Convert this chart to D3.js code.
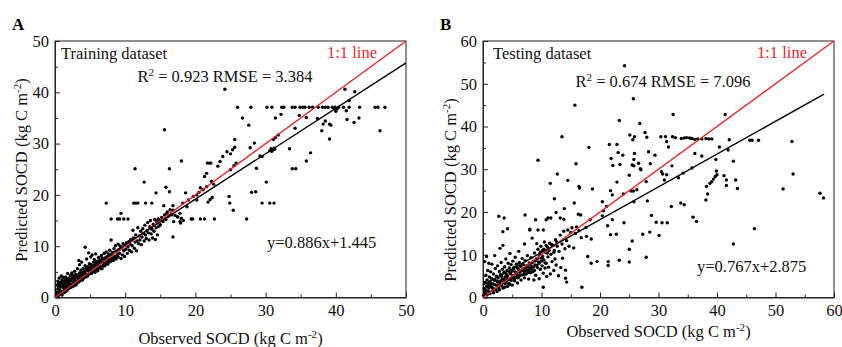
<!DOCTYPE html>
<html><head><meta charset="utf-8">
<script src="https://cdn.jsdelivr.net/npm/d3@7"></script>
<style>
body{margin:0;background:#fff}
svg{display:block}
text{font-family:"Liberation Serif","Times New Roman",serif;fill:#111}
</style></head>
<body><svg id="chart" width="842" height="347"></svg>
<script>
// ---------------- DATA ----------------
const trainingPoints = [
[0.2,0.3],[0.3,1.1],[0.3,2.4],[0.4,0.6],[0.4,3.2],[0.5,1.7],[0.5,2.8],[0.6,0.9],[0.6,3.8],[0.7,1.4],[0.7,2.1],[0.8,3.0],[0.8,0.7],[0.9,2.5],[0.9,4.2],[1.0,1.2],[1.0,3.4],[1.1,2.0],[1.1,2.9],[1.2,0.9],[1.2,3.9],[1.3,1.8],[1.3,2.6],[1.4,3.3],[1.4,1.5],[1.5,2.2],[1.5,4.0],[1.6,2.9],[1.6,1.9],[1.7,3.6],[1.8,2.4],[1.8,4.7],[1.9,3.1],[1.9,1.7],[2.0,2.7],[2.0,3.8],[2.1,2.1],[2.2,4.3],[2.2,3.2],[2.3,2.6],[2.4,4.8],[2.4,3.6],[2.5,2.4],[2.6,3.1],[2.6,4.4],[2.7,2.9],[2.8,3.7],[2.8,5.1],[2.9,3.3],[3.0,2.6],[3.0,4.5],[3.1,3.9],[3.2,3.0],[3.2,5.6],[3.3,4.2],[3.4,7.2],[3.4,3.5],[3.5,4.8],[3.5,6.4],[3.6,3.8],[3.7,5.3],[3.7,4.1],[3.8,6.9],[3.9,4.6],[3.9,3.6],[4.0,5.6],[4.1,4.3],[4.3,9.8],[4.2,5.0],[4.3,6.2],[4.4,4.6],[4.5,5.4],[4.5,7.5],[4.6,4.2],[4.7,6.0],[4.8,5.1],[4.8,8.7],[4.9,6.6],[5.0,4.8],[5.0,5.7],[5.1,7.9],[5.2,5.3],[5.2,6.4],[5.3,8.3],[5.4,5.0],[5.5,6.9],[5.5,5.8],[5.6,7.4],[5.7,4.9],[5.8,6.2],[5.8,8.5],[5.9,5.5],[6.0,7.1],[6.0,6.3],[6.1,5.2],[6.2,7.8],[6.3,6.6],[6.3,5.8],[6.4,7.3],[6.5,6.0],[6.6,8.2],[6.6,6.9],[6.7,5.6],[6.8,7.5],[6.9,6.4],[7.0,8.6],[7.0,7.0],[7.1,6.2],[7.2,7.7],[7.3,8.9],[7.3,6.8],[7.4,7.3],[7.5,6.5],[7.6,8.1],[7.7,7.4],[7.8,9.2],[7.9,7.0],[8.0,11.2],[8.0,8.3],[8.1,7.6],[8.2,8.8],[8.3,7.2],[8.4,9.5],[8.5,8.0],[8.6,10.1],[8.7,7.5],[8.8,9.0],[8.9,8.4],[9.0,10.4],[9.0,7.9],[9.1,9.3],[9.2,8.6],[9.3,10.0],[9.4,7.6],[9.5,9.6],[9.6,8.3],[9.7,10.5],[9.8,9.1],[9.9,8.0],[10.0,10.2],[10.1,9.4],[10.2,10.7],[10.3,8.6],[10.4,9.9],[10.5,10.9],[10.6,9.2],[10.7,10.4],[10.8,11.3],[10.9,8.9],[11.0,10.1],[11.1,13.1],[11.2,11.6],[11.3,9.6],[11.4,10.8],[11.5,12.2],[11.6,9.1],[11.7,11.0],[11.8,13.6],[11.9,10.5],[12.0,12.0],[12.1,11.2],[12.2,12.9],[12.3,10.3],[12.4,11.8],[12.5,13.4],[12.6,12.5],[12.7,11.0],[12.8,14.1],[12.9,12.2],[13.0,11.5],[13.1,13.0],[13.2,14.6],[13.3,12.6],[13.4,11.2],[13.5,13.8],[13.6,15.0],[13.7,12.4],[13.8,13.3],[13.9,11.6],[14.0,14.3],[14.1,12.9],[14.2,15.2],[14.3,11.3],[14.4,13.6],[14.5,14.8],[14.6,12.2],[14.7,15.3],[14.8,13.9],[14.9,15.0],[15.0,14.2],[15.2,15.6],[15.4,14.8],[15.6,16.1],[15.8,15.2],[16.0,16.7],[16.2,15.9],[16.5,16.3],[16.8,17.0],[17.1,16.0],[17.5,15.7],[17.8,14.8],[18.0,15.4],
[0.3,0.8],[0.5,0.4],[0.6,1.9],[0.9,1.1],[1.0,0.5],[1.2,2.2],[1.4,1.0],[1.7,1.3],[2.0,1.8],[2.3,2.0],[2.6,2.2],[2.9,2.4],[3.1,2.8],[3.4,3.0],[3.6,3.3],[3.9,3.4],[4.1,3.8],[4.4,4.0],[4.7,4.4],[4.9,4.6],[5.2,4.7],[5.5,5.1],[5.7,5.4],[6.0,5.5],[6.2,5.8],[6.5,5.7],[6.8,6.1],[7.1,6.7],[7.4,6.6],[7.7,6.9],[8.0,7.3],[8.3,7.7],[8.6,7.8],[0.5,2.0],[0.8,2.5],[1.1,3.0],[1.5,3.1],[1.8,3.5],[2.1,3.5],[2.5,3.9],[2.9,4.1],[3.3,4.4],[3.6,4.5],[4.0,4.9],[4.4,5.6],[4.7,5.3],[5.1,6.0],[5.4,6.2],[5.8,6.8],[6.1,7.0],[6.4,6.9],[6.7,7.7],[7.0,7.6],[7.3,7.9],[7.6,8.5],
[7.3,18.4],[11.2,18.4],[11.5,18.4],[11.8,18.4],[12.9,18.4],[13.8,18.4],[8.0,15.3],[8.9,15.3],[9.2,15.3],[9.8,15.3],[10.4,15.3],[9.4,16.4],[14.4,20.4],[15.8,21.5],[16.3,20.6],[16.8,17.9],[15.5,17.9],[16.8,11.8],[11.4,25.1],[12.7,22.5],[15.6,32.7],[18.0,26.6],[16.3,25.1],[18.6,20.4],[18.2,18.4],[17.8,16.4],[17.9,14.5],[18.3,15.0],[19.4,15.3],[19.6,15.3],[20.7,15.3],[21.3,15.3],[22.7,15.3],[15.9,16.4],[16.4,17.1],[17.4,15.8],[16.9,14.8],[16.6,16.1],[18.8,17.7],[19.0,19.0],[19.7,19.7],[20.2,19.0],[20.5,20.5],[20.2,20.0],[20.7,21.4],[21.1,21.0],[21.6,21.6],[21.6,24.2],[21.3,23.6],[22.3,22.6],[22.6,22.1],[21.7,26.2],[22.0,26.2],[22.2,26.2],[23.2,25.6],[23.9,27.5],[23.5,26.5],[22.1,19.1],[21.8,18.6],[22.4,19.5],[24.8,19.7],[24.9,18.4],[25.4,17.0],[24.2,40.6],[25.0,24.9],[25.5,25.7],[25.8,26.2],[24.5,28.4],[25.0,28.0],[25.3,28.8],[25.6,29.3],[25.6,30.8],[26.0,37.1],[27.9,37.1],[26.7,35.0],[27.6,33.6],[27.3,15.3],[28.0,20.5],[28.6,20.6],[28.7,25.2],[28.4,30.1],[27.8,29.2],[29.2,27.6],[29.5,27.5],[30.1,22.5],[29.5,18.4],[30.6,18.4],[31.2,18.4],[30.2,37.1],[30.9,37.1],[32.3,37.1],[32.6,37.1],[31.4,35.0],[32.2,35.7],[30.6,28.6],[30.8,29.0],[31.0,28.8],[31.2,29.1],[30.9,28.5],[31.3,28.9],[31.4,31.2],[31.1,30.8],[31.8,31.7],[33.4,29.0],[33.8,25.1],[34.3,25.1],[34.2,33.0],[34.8,35.5],[35.8,35.1],[35.8,26.6],[36.4,28.2],[37.4,34.9],[33.8,37.1],[34.2,37.1],[34.9,37.1],[35.3,37.1],[35.6,37.1],[36.2,37.1],[36.7,37.1],[37.5,37.1],[38.1,37.1],[38.5,37.1],[38.9,37.1],[39.5,37.1],[39.9,37.1],[40.4,37.1],[41.1,37.1],[41.9,37.1],[43.4,37.1],[45.6,37.1],[46.0,37.1],[47.0,37.1],[46.3,32.5],[43.3,35.0],[42.6,34.1],[41.6,34.7],[41.5,36.4],[41.9,38.4],[41.3,40.6],[42.7,40.1],[38.5,34.4],[38.2,33.8],[38.0,32.5],[39.1,33.8],[39.3,33.6],[39.1,30.9],[39.8,36.8],[40.2,36.8],[40.0,36.3]
];
const testingPoints = [
[0.1,0.5],[0.2,2.1],[0.3,8.4],[0.3,1.2],[0.4,3.5],[0.5,0.8],[0.5,5.2],[0.6,9.6],[0.6,2.6],[0.7,4.1],[0.8,1.5],[0.8,6.3],[0.9,3.0],[1.0,8.0],[1.0,2.2],[1.1,4.8],[1.2,0.9],[1.2,3.7],[1.3,6.0],[1.4,2.5],[1.5,7.8],[1.5,4.4],[1.6,1.6],[1.7,3.2],[1.8,5.5],[1.9,2.0],[2.0,9.8],[2.0,4.0],[2.1,6.8],[2.2,2.9],[2.3,5.0],[2.4,1.4],[2.5,3.6],[2.5,7.4],[2.6,4.6],[2.7,2.3],[2.8,6.1],[2.9,11.5],[2.9,3.3],[3.0,5.4],[3.1,8.2],[3.2,2.8],[3.3,4.3],[3.3,6.6],[3.4,12.2],[3.5,3.5],[3.6,5.9],[3.7,2.4],[3.7,7.2],[3.8,4.8],[3.9,9.0],[4.0,3.8],[4.1,6.3],[4.2,2.6],[4.2,5.1],[4.3,8.0],[4.4,4.2],[4.5,6.9],[4.6,3.1],[4.6,10.3],[4.7,5.6],[4.8,7.7],[4.9,4.5],[5.0,6.2],[5.0,2.9],[5.1,8.5],[5.2,5.0],[5.3,7.1],[5.4,3.9],[5.5,9.4],[5.5,6.0],[5.6,4.7],[5.7,7.8],[5.8,5.4],[5.9,3.4],[6.0,6.7],[6.1,10.8],[6.1,4.9],[6.2,8.2],[6.3,5.9],[6.4,7.3],[6.5,4.1],[6.6,6.4],[6.7,9.1],[6.8,5.3],[6.9,7.7],[7.0,6.1],[7.1,12.5],[7.1,4.6],[7.2,8.6],[7.3,6.8],[7.4,5.5],[7.5,7.5],[7.6,9.8],[7.7,6.3],[7.8,4.3],[7.9,8.1],[8.0,16.0],[8.0,6.9],[8.1,5.8],[8.2,9.3],[8.3,7.2],[8.4,13.9],[8.5,6.0],[8.6,8.5],[8.7,4.1],[8.8,10.4],[8.9,7.6],[9.0,5.2],[9.1,9.0],[9.2,12.6],[9.3,7.0],[9.4,11.3],[9.5,8.3],[9.6,4.4],[9.7,10.0],[9.8,6.6],[9.9,12.0],[10.0,9.2],[10.1,7.4],[10.2,11.0],[10.3,5.7],[10.4,8.8],[10.5,13.0],[10.6,6.9],[10.7,10.5],[10.8,8.0],[10.9,4.9],[11.0,11.8],[11.1,9.5],[11.2,7.1],[11.4,12.7],[11.5,5.5],[11.6,10.1],[11.8,8.4],[12.0,12.2],[12.1,6.3],[12.2,11.0],[12.3,9.0],[12.4,13.5],[12.5,7.6],[12.7,12.0],[12.9,5.1],[13.0,10.8],[13.2,14.6],[13.3,7.0],[13.5,12.5],[13.6,9.2],[13.8,15.5],[14.0,11.4],[14.1,6.4],[14.3,13.3],[14.5,15.8],[14.7,12.0],[15.0,15.2],[15.2,16.3],[15.5,11.6],[15.8,15.0],[16.0,16.5],[16.4,15.6],[16.8,14.0],
[0.4,1.8],[0.7,0.6],[0.9,2.4],[1.1,1.3],[1.3,3.1],[1.6,2.3],[1.8,1.1],[2.0,3.0],[2.2,1.9],[2.4,3.9],[2.6,2.7],[2.8,1.8],[3.0,3.9],[3.2,4.9],[3.4,2.2],[3.6,4.2],[3.8,3.2],[4.0,5.4],[4.2,4.4],[4.4,3.3],[4.6,5.9],[4.8,4.0],[5.0,5.1],[5.2,6.6],[5.4,4.4],[5.6,5.7],[5.8,7.0],[6.0,4.6],[6.2,6.2],[6.4,5.2],[6.6,7.6],[6.8,6.7],[7.0,5.4],[7.2,7.0],[7.4,6.2],[7.6,7.2],[7.8,5.9],[8.0,7.8],[8.2,6.6],[8.4,8.1],[8.6,7.1],[8.8,6.3],[9.0,8.6],[9.2,7.5],[9.4,9.2],[9.6,8.0],[9.8,10.6],[10.0,8.5],[10.2,9.6],[10.4,11.3],[10.6,8.1],[10.8,12.2],[11.0,10.4],[11.3,11.0],[11.7,12.4],[12.1,10.6],[12.6,13.0],
[2.7,19.0],[3.6,18.6],[4.2,16.1],[3.4,15.4],[7.2,19.3],[9.0,18.2],[9.4,15.8],[10.3,15.8],[8.0,15.8],[10.8,18.2],[11.1,18.6],[11.6,18.6],[12.5,19.9],[13.2,18.6],[13.8,18.3],[16.3,19.5],[16.7,19.3],[9.4,32.1],[15.9,31.3],[12.7,28.9],[11.5,26.7],[14.5,27.4],[16.4,26.0],[16.5,25.6],[12.2,23.1],[15.6,22.1],[13.9,20.8],[13.5,37.6],[15.7,45.0],[24.2,54.2],[25.7,46.5],[23.3,41.4],[26.8,40.7],[32.5,42.8],[41.4,42.8],[18.1,35.1],[18.7,25.4],[18.3,18.2],[17.6,16.4],[17.7,14.3],[18.5,13.7],[17.9,9.6],[18.5,8.0],[19.5,8.4],[16.9,2.4],[10.3,2.4],[14.1,4.5],[14.3,3.6],[20.4,22.4],[20.6,20.3],[20.4,19.1],[21.1,21.3],[21.6,35.8],[22.9,35.8],[21.9,32.5],[22.2,30.9],[23.1,33.9],[23.4,31.1],[23.9,33.3],[21.8,25.0],[22.1,24.0],[22.1,18.2],[21.3,16.8],[21.8,14.7],[22.8,14.8],[22.9,27.0],[24.0,24.2],[24.1,17.5],[21.4,8.4],[21.4,7.5],[23.3,8.7],[25.0,8.3],[25.0,11.3],[25.5,13.2],[25.1,38.0],[25.9,37.6],[25.6,36.9],[25.0,28.6],[25.5,31.0],[25.8,30.8],[25.9,33.7],[25.8,32.3],[25.3,24.9],[25.7,24.9],[25.8,22.4],[26.3,25.2],[26.6,31.4],[26.9,30.1],[27.0,29.9],[27.3,14.8],[27.9,9.4],[27.7,38.6],[28.0,37.5],[28.3,34.1],[28.6,31.3],[27.9,27.1],[28.1,22.6],[28.8,19.2],[28.5,15.3],[29.4,33.3],[29.6,17.6],[30.1,14.5],[30.4,37.6],[31.2,37.6],[31.4,36.5],[31.7,35.2],[30.5,29.4],[30.7,28.9],[31.0,27.5],[31.4,28.7],[30.6,17.5],[31.5,17.5],[32.3,30.8],[32.4,37.6],[32.9,37.4],[32.2,21.3],[33.4,28.0],[33.9,37.2],[34.4,37.3],[34.8,37.4],[35.3,37.3],[35.7,37.2],[36.2,37.0],[36.7,37.1],[37.4,37.1],[38.1,37.2],[38.6,37.1],[39.1,37.1],[33.8,22.1],[34.4,21.7],[34.2,29.1],[35.7,30.3],[35.9,18.8],[36.5,17.8],[36.2,33.7],[37.4,33.1],[38.2,26.0],[38.4,24.2],[38.1,22.8],[38.8,26.7],[39.1,27.1],[39.4,27.7],[39.7,28.3],[39.9,29.6],[40.0,28.7],[39.8,32.3],[40.4,35.2],[41.2,28.5],[41.6,27.5],[41.6,26.2],[41.9,34.5],[42.1,36.9],[42.8,31.9],[43.2,27.5],[43.5,25.5],[42.8,12.5],[45.6,36.8],[46.0,36.8],[47.1,36.8],[46.4,16.1],[51.3,25.4],[52.8,36.5],[53.0,28.9],[57.6,24.4],[58.2,23.3]
];
const trainingFit = {slope: 0.886, intercept: 1.445, xMax: 50};
const testingFit  = {slope: 0.767, intercept: 2.875, xMax: 58.3};
const ticksA = [0, 10, 20, 30, 40, 50];
const minorA = [5, 15, 25, 35, 45];
const ticksB = [0, 10, 20, 30, 40, 50, 60];
const minorB = [5, 15, 25, 35, 45, 55];
const labelsA = {tag: "A", title: "Training dataset", r2: "0.923", rmse: "3.384", eq: "y=0.886x+1.445"};
const labelsB = {tag: "B", title: "Testing dataset", r2: "0.674", rmse: "7.096", eq: "y=0.767x+2.875"};

// ---------------- DRAW ----------------
const svg = d3.select("#chart");
const FS = 16.5;

function drawPanel(cfg) {
  const {left, right, top, bottom, max, ticks, minor, pts, fit, lab} = cfg;
  const x = d3.scaleLinear().domain([0, max]).range([left, right]);
  const y = d3.scaleLinear().domain([0, max]).range([bottom, top]);
  const g = svg.append("g");

  g.append("rect").attr("x", left).attr("y", top).attr("width", right - left).attr("height", bottom - top)
    .attr("fill", "none").attr("stroke", "#222").attr("stroke-width", 1);

  const xAxis = d3.axisBottom(x).tickValues(ticks).tickSizeInner(-5).tickSizeOuter(0).tickPadding(7).tickFormat(d3.format("d"));
  const gx = g.append("g").attr("transform", `translate(0,${bottom})`).call(xAxis);
  gx.select(".domain").attr("stroke", "#222");
  gx.selectAll(".tick line").attr("stroke", "#222");
  gx.selectAll("text").attr("font-size", FS).attr("font-family", "Liberation Serif").attr("fill", "#111");
  const gxm = g.append("g").attr("transform", `translate(0,${bottom})`)
    .call(d3.axisBottom(x).tickValues(minor).tickSize(-3).tickFormat(""));
  gxm.select(".domain").remove();
  gxm.selectAll(".tick line").attr("stroke", "#222");

  const yAxis = d3.axisLeft(y).tickValues(ticks).tickSizeInner(-5).tickSizeOuter(0).tickPadding(6).tickFormat(d3.format("d"));
  const gy = g.append("g").attr("transform", `translate(${left},0)`).call(yAxis);
  gy.select(".domain").attr("stroke", "#222");
  gy.selectAll(".tick line").attr("stroke", "#222");
  gy.selectAll("text").attr("font-size", FS).attr("font-family", "Liberation Serif").attr("fill", "#111");
  const gym = g.append("g").attr("transform", `translate(${left},0)`)
    .call(d3.axisLeft(y).tickValues(minor).tickSize(-3).tickFormat(""));
  gym.select(".domain").remove();
  gym.selectAll(".tick line").attr("stroke", "#222");

  g.append("g").selectAll("circle").data(pts).join("circle")
    .attr("cx", d => x(d[0])).attr("cy", d => y(d[1])).attr("r", 1.7).attr("fill", "#000");

  g.append("line").attr("x1", x(0)).attr("y1", y(0)).attr("x2", x(max)).attr("y2", y(max))
    .attr("stroke", "#e8262b").attr("stroke-width", 1.4);
  g.append("line").attr("x1", x(0)).attr("y1", y(fit.intercept))
    .attr("x2", x(fit.xMax)).attr("y2", y(fit.slope * fit.xMax + fit.intercept))
    .attr("stroke", "#000").attr("stroke-width", 1.4);

  g.append("text").attr("x", cfg.tagX).attr("y", 30).text(lab.tag)
    .attr("font-family", "Liberation Sans, Arial, sans-serif").attr("font-weight", "bold").attr("font-size", 17).style("fill", "#000");
  g.append("text").attr("x", cfg.titleX).attr("y", 59).attr("font-size", FS).text(lab.title);
  g.append("text").attr("x", cfg.oneX).attr("y", 58).attr("font-size", FS).style("fill", "#e8262b").text("1:1 line");
  const r2 = g.append("text").attr("x", cfg.r2X).attr("y", cfg.r2Y).attr("font-size", FS).attr("text-anchor", "middle");
  r2.append("tspan").text("R");
  r2.append("tspan").attr("dy", -6).attr("font-size", 11).text("2");
  r2.append("tspan").attr("dy", 6).text(` = ${lab.r2} RMSE = ${lab.rmse}`);
  g.append("text").attr("x", cfg.eqX).attr("y", cfg.eqY).attr("font-size", FS).text(lab.eq);

  const xt = g.append("text").attr("x", (left + right) / 2).attr("y", cfg.xTitleY).attr("font-size", FS).attr("text-anchor", "middle");
  xt.append("tspan").text("Observed SOCD (kg C m");
  xt.append("tspan").attr("dy", -6).attr("font-size", 11).text("-2");
  xt.append("tspan").attr("dy", 6).text(")");
  const yt = g.append("text").attr("transform", `translate(${cfg.yTitleX},${cfg.yTitleY}) rotate(-90)`)
    .attr("font-size", FS).attr("text-anchor", "middle");
  yt.append("tspan").text("Predicted SOCD (kg C m");
  yt.append("tspan").attr("dy", -6).attr("font-size", 11).text("-2");
  yt.append("tspan").attr("dy", 6).text(")");
}

drawPanel({left: 55, right: 406, top: 41, bottom: 297.5, max: 50, ticks: ticksA, minor: minorA,
  pts: trainingPoints, fit: trainingFit, lab: labelsA, tagX: 12,
  titleX: 61, oneX: 327, r2X: 225, r2Y: 82, eqX: 267, eqY: 248, xTitleY: 344, yTitleX: 27, yTitleY: 170});
drawPanel({left: 483, right: 834, top: 41, bottom: 297.5, max: 60, ticks: ticksB, minor: minorB,
  pts: testingPoints, fit: testingFit, lab: labelsB, tagX: 440,
  titleX: 493, oneX: 757, r2X: 663, r2Y: 87, eqX: 697, eqY: 272, xTitleY: 337, yTitleX: 456, yTitleY: 190});
</script>
</body></html>
